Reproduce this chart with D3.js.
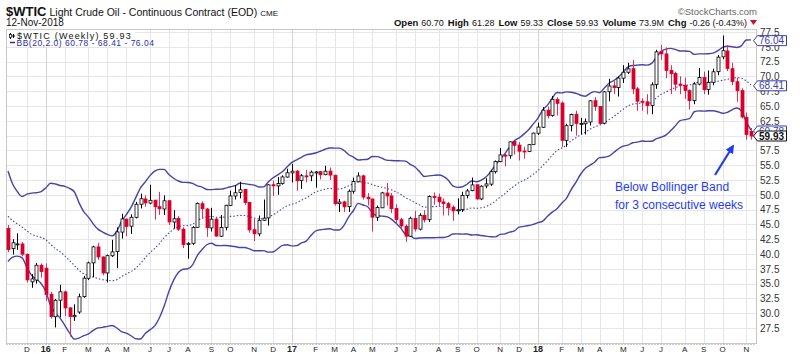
<!DOCTYPE html>
<html>
<head>
<meta charset="utf-8">
<script src="https://cdn.jsdelivr.net/npm/d3@7"></script>
<style>
    body { margin: 0; background: #fff; }
    svg { display: block; font-family: "Liberation Sans", Arial, sans-serif; }
</style>
</head>
<body>
<div id="chart"></div>
<script>
// weekly candles, $WTIC, week of 9-Nov-2015 to week of 12-Nov-2018
const opens = [
    44.3, 40.9, 41.6, 41.7, 39.9, 35.3, 35.6, 38.1, 37.6, 33.2,
    29.4, 32.2, 33.6, 30.9, 29.4, 30.2, 32.8, 35.9, 38.5, 41.2,
    39.5, 36.8, 39.7, 40.4, 43.7, 45.9, 44.7, 46.2, 48.4, 49.3,
    48.6, 49.1, 48.0, 47.6, 49.0, 45.4, 46.0, 44.2, 41.6, 41.8,
    44.5, 48.5, 47.6, 44.4, 45.9, 43.0, 44.5, 48.2, 49.8, 50.4,
    50.9, 48.7, 44.1, 43.4, 45.7, 46.1, 51.7, 51.5, 51.9, 53.0,
    53.7, 54.0, 52.4, 53.2, 53.2, 53.8, 53.9, 53.4, 54.0, 53.3,
    48.5, 48.8, 48.0, 50.6, 52.2, 53.2, 49.6, 49.3, 46.2, 47.8,
    50.3, 49.8, 47.7, 45.8, 44.7, 43.0, 46.0, 44.2, 46.5, 45.8,
    49.7, 49.6, 48.8, 48.5, 47.9, 47.3, 47.5, 49.9, 50.7, 51.7,
    49.3, 51.5, 51.8, 53.9, 55.6, 56.7, 56.6, 59.0, 58.4, 57.4,
    57.3, 58.5, 60.4, 61.4, 64.3, 63.4, 66.1, 65.5, 59.2, 61.7,
    63.6, 62.0, 62.0, 62.3, 65.9, 64.9, 62.1, 67.4, 68.4, 68.1,
    69.7, 70.7, 71.3, 67.9, 65.8, 65.7, 65.1, 68.6, 74.2, 73.8,
    71.0, 70.5, 68.7, 68.5, 67.6, 65.9, 68.7, 69.8, 67.8, 69.0,
    70.8, 73.3, 74.3, 71.3, 69.1, 67.6, 63.1, 60.7
];
const highs = [
    44.9, 42.5, 43.5, 42.0, 40.1, 36.6, 38.5, 38.4, 38.4, 33.6,
    32.4, 34.8, 33.8, 31.0, 31.5, 33.3, 36.3, 38.7, 41.4, 41.9,
    39.6, 39.9, 42.4, 44.5, 46.8, 46.0, 46.7, 48.8, 50.2, 49.9,
    51.7, 49.1, 50.5, 49.9, 49.1, 47.4, 46.4, 44.5, 42.0, 44.7,
    48.7, 48.9, 47.8, 47.8, 46.2, 46.6, 48.3, 50.7, 51.6, 52.2,
    51.0, 48.8, 45.9, 46.5, 49.2, 51.8, 52.4, 53.0, 53.3, 54.4,
    55.2, 54.2, 53.5, 54.2, 54.1, 54.0, 54.0, 54.9, 54.6, 53.4,
    49.3, 49.0, 50.9, 52.9, 53.8, 53.4, 50.3, 49.3, 48.2, 50.5,
    52.0, 50.3, 48.4, 46.1, 45.0, 46.3, 47.3, 46.9, 47.4, 49.9,
    50.4, 50.2, 49.4, 48.8, 48.2, 49.4, 50.5, 51.0, 52.9, 51.7,
    51.6, 52.8, 54.2, 55.8, 57.9, 56.9, 59.0, 59.1, 58.9, 58.1,
    58.6, 60.5, 62.2, 64.8, 64.9, 66.7, 66.5, 65.8, 62.0, 63.7,
    64.2, 63.0, 62.9, 66.0, 66.5, 65.0, 67.5, 69.6, 69.3, 70.0,
    71.9, 72.3, 72.8, 68.2, 66.3, 67.0, 69.0, 74.5, 75.3, 74.9,
    71.9, 70.8, 70.0, 69.8, 67.8, 69.0, 71.4, 70.8, 71.0, 71.3,
    73.6, 76.9, 75.3, 72.3, 69.8, 68.0, 63.9, 61.28
];
const lows = [
    40.3, 39.9, 40.7, 39.6, 35.2, 34.3, 35.0, 36.0, 32.1, 29.1,
    27.6, 29.3, 29.5, 26.05, 28.7, 29.9, 32.6, 35.6, 36.1, 39.0,
    36.4, 35.2, 39.5, 37.6, 42.6, 43.0, 43.4, 46.0, 47.7, 48.0,
    48.4, 45.8, 46.6, 46.6, 44.9, 44.3, 43.9, 41.0, 39.2, 41.5,
    44.4, 46.0, 42.9, 43.8, 42.9, 42.9, 44.0, 48.2, 49.2, 49.4,
    48.3, 43.6, 42.2, 43.0, 45.6, 44.8, 49.8, 50.0, 51.7, 52.9,
    52.1, 50.7, 51.0, 52.1, 52.3, 51.2, 52.6, 53.3, 52.5, 48.2,
    47.1, 47.1, 47.1, 50.2, 52.1, 49.2, 48.2, 43.8, 45.6, 47.8,
    48.2, 46.9, 45.2, 44.2, 42.05, 42.9, 43.8, 44.0, 45.3, 45.4,
    48.3, 48.1, 46.5, 46.5, 45.6, 46.7, 47.1, 49.4, 50.6, 49.2,
    49.1, 51.1, 51.5, 53.6, 55.5, 54.8, 56.1, 56.8, 55.8, 56.1,
    57.2, 58.5, 60.1, 61.3, 62.9, 63.2, 63.4, 58.1, 58.1, 60.7,
    60.0, 60.2, 60.2, 61.7, 64.2, 61.8, 61.9, 65.8, 67.0, 66.6,
    68.9, 70.4, 67.0, 64.2, 64.2, 63.6, 63.6, 67.9, 72.8, 69.7,
    67.0, 67.6, 67.0, 66.2, 64.4, 65.3, 68.5, 67.0, 66.9, 68.5,
    70.2, 72.9, 70.9, 68.5, 65.7, 62.9, 59.3, 59.33
];
const closes = [
    40.74, 41.90, 41.71, 39.97, 35.62, 35.80, 38.10, 37.04, 33.16, 29.42,
    32.19, 33.62, 30.89, 29.44, 29.64, 32.78, 35.92, 38.50, 41.20, 39.50,
    36.79, 39.72, 40.36, 43.73, 45.92, 44.66, 46.21, 48.41, 49.33, 48.62,
    49.07, 47.98, 47.64, 48.99, 45.41, 45.95, 44.19, 41.60, 41.80, 44.49,
    48.52, 47.64, 44.44, 45.88, 43.03, 44.48, 48.24, 49.81, 50.35, 50.85,
    48.70, 44.07, 43.41, 45.69, 46.06, 51.68, 51.50, 51.90, 53.02, 53.72,
    53.99, 52.37, 53.22, 53.17, 53.83, 53.86, 53.40, 53.99, 53.33, 48.49,
    48.78, 47.97, 50.60, 52.24, 53.18, 49.62, 49.33, 46.22, 47.84, 50.33,
    49.80, 47.66, 45.83, 44.74, 43.01, 46.04, 44.23, 46.54, 45.77, 49.71,
    49.58, 48.82, 48.51, 47.87, 47.29, 47.48, 49.89, 50.66, 51.67, 49.29,
    51.45, 51.84, 53.90, 55.64, 56.74, 56.55, 58.95, 58.36, 57.36, 57.30,
    58.47, 60.42, 61.44, 64.30, 63.37, 66.14, 65.45, 59.20, 61.68, 63.55,
    62.04, 62.04, 62.34, 65.88, 64.94, 62.06, 67.39, 68.38, 68.10, 69.72,
    70.70, 71.28, 67.88, 65.81, 65.74, 65.06, 68.58, 74.15, 73.80, 71.01,
    70.46, 68.69, 68.49, 67.63, 65.91, 68.72, 69.80, 67.75, 68.99, 70.78,
    73.25, 74.34, 71.34, 69.12, 67.59, 63.14, 60.19, 59.93
];
// 19 weekly closes before the first candle, needed for the 20-week bands
const priorCloses = [
    56.93, 52.74, 50.89, 48.14, 47.12, 43.87, 42.50, 40.45, 45.22, 46.05,
    44.63, 44.68, 45.70, 45.54, 49.63, 47.26, 44.60, 46.59, 44.29
];
const yTicks = d3.range(27.5, 77.6, 2.5);
const monthLetters = ['J', 'F', 'M', 'A', 'M', 'J', 'J', 'A', 'S', 'O', 'N', 'D'];
const headerItems = [
    ['Open', '60.70'], ['High', '61.28'], ['Low', '59.33'], ['Close', '59.93'],
    ['Volume', '73.9M'], ['Chg', '-0.26 (-0.43%)']
];
const priceTags = [
    {value: 76.04, label: '76.04', color: '#3c3ca8', bold: false},
    {value: 68.41, label: '68.41', color: '#3c3ca8', bold: false},
    {value: 60.78, label: '60.78', color: '#3c3ca8', bold: false},
    {value: 59.93, label: '59.93', color: '#111', bold: true}
];

const W = 800, H = 354;
const plot = {left: 6.5, right: 756.5, top: 29.5, bottom: 343.5};
const UP = '#000', DOWN = '#d8002e', DOWN_WICK = '#e2304f', BAND = '#4444aa';

const weeks = d3.timeMonday.range(new Date(2015, 10, 9), new Date(2018, 10, 13));
const candles = weeks.map((d, i) => ({date: d, o: opens[i], h: highs[i], l: lows[i], c: closes[i]}));

// Bollinger bands (20, 2.0)
const allCloses = priorCloses.concat(closes);
const bands = candles.map((d, i) => {
    const win = allCloses.slice(i, i + 20);
    const m = d3.mean(win);
    const sd = Math.sqrt(d3.mean(win, v => (v - m) * (v - m)));
    return {date: d.date, mid: m, up: m + 2 * sd, lo: m - 2 * sd};
});

const svg = d3.select('#chart').append('svg')
    .attr('width', W)
    .attr('height', H);

const x = d3.scaleTime()
    .domain([weeks[0], weeks[weeks.length - 1]])
    .range([8, 751]);

const y = d3.scaleLinear()
    .domain([27.5, 77.5])
    .range([328, 32]);

// month positions = first weekly bar of each month
const months = d3.timeMonth.range(new Date(2015, 11, 1), new Date(2018, 10, 2))
    .map(m => ({month: m, bar: d3.timeMonday.ceil(m)}));

// grid
const grid = svg.append('g');
grid.selectAll('line.h')
    .data(yTicks)
    .join('line')
    .attr('class', 'h')
    .attr('x1', plot.left).attr('x2', plot.right)
    .attr('y1', d => Math.round(y(d)) + 0.5)
    .attr('y2', d => Math.round(y(d)) + 0.5)
    .attr('stroke', '#e6e6e6');

grid.selectAll('line.v')
    .data(months)
    .join('line')
    .attr('class', 'v')
    .attr('x1', d => Math.round(x(d.bar)) + 0.5)
    .attr('x2', d => Math.round(x(d.bar)) + 0.5)
    .attr('y1', plot.top).attr('y2', plot.bottom)
    .attr('stroke', d => d.month.getMonth() === 0 ? '#d4d4d4' : '#e6e6e6');

// frame
svg.append('rect')
    .attr('x', plot.left).attr('y', plot.top)
    .attr('width', plot.right - plot.left)
    .attr('height', plot.bottom - plot.top)
    .attr('fill', 'none')
    .attr('stroke', '#c8c8c8');

// bottom dotted week ticks
svg.append('line')
    .attr('x1', plot.left).attr('x2', plot.right)
    .attr('y1', plot.bottom + 1).attr('y2', plot.bottom + 1)
    .attr('stroke', '#999')
    .attr('stroke-dasharray', '1,2');

// bands
const bandLine = key => d3.line().x(d => x(d.date)).y(d => y(d[key])).curve(d3.curveMonotoneX);
svg.append('path').datum(bands)
    .attr('d', bandLine('up'))
    .attr('fill', 'none').attr('stroke', BAND).attr('stroke-width', 1.4);
svg.append('path').datum(bands)
    .attr('d', bandLine('lo'))
    .attr('fill', 'none').attr('stroke', BAND).attr('stroke-width', 1.4);
svg.append('path').datum(bands)
    .attr('d', bandLine('mid'))
    .attr('fill', 'none').attr('stroke', BAND).attr('stroke-width', 1.1)
    .attr('stroke-dasharray', '1.5,2');

// candles
const cg = svg.append('g');
cg.selectAll('line')
    .data(candles)
    .join('line')
    .attr('x1', d => Math.round(x(d.date)) + 0.5)
    .attr('x2', d => Math.round(x(d.date)) + 0.5)
    .attr('y1', d => y(d.h))
    .attr('y2', d => y(d.l))
    .attr('stroke', d => d.c >= d.o ? UP : DOWN_WICK)
    .attr('stroke-width', 1);

cg.selectAll('rect')
    .data(candles)
    .join('rect')
    .attr('x', d => Math.round(x(d.date)) - 1)
    .attr('y', d => y(Math.max(d.o, d.c)))
    .attr('width', 3)
    .attr('height', d => Math.max(1, Math.abs(y(d.o) - y(d.c))))
    .attr('fill', d => d.c >= d.o ? '#fff' : DOWN)
    .attr('stroke', d => d.c >= d.o ? UP : DOWN)
    .attr('stroke-width', 0.8);

// right axis labels (60.0 sits fully under the price tags)
const yAxis = d3.axisRight(y)
    .tickValues(yTicks.filter(v => v !== 60))
    .tickSize(0)
    .tickPadding(0)
    .tickFormat(d3.format('.1f'));
svg.append('g')
    .attr('transform', 'translate(760,0)')
    .call(yAxis)
    .call(g => g.select('.domain').remove())
    .call(g => g.selectAll('text')
        .attr('fill', '#333')
        .style('font-size', '10px')
        .style('font-family', '"Liberation Sans", Arial, sans-serif'));

// price tags on the right
const tags = svg.append('g').selectAll('g')
    .data(priceTags)
    .join('g')
    .attr('transform', d => `translate(0,${y(d.value)})`);
tags.append('path')
    .attr('d', 'M753.5,0 L757.5,-5 L786.5,-5 L786.5,5 L757.5,5 Z')
    .attr('fill', '#fff')
    .attr('stroke', d => d.color)
    .attr('stroke-width', 1);
tags.append('text')
    .attr('x', 759)
    .attr('y', 3.6)
    .attr('fill', d => d.color)
    .style('font-size', '10px')
    .style('font-weight', d => d.bold ? 'bold' : 'normal')
    .text(d => d.label);

// x axis month labels
svg.append('g').selectAll('text')
    .data(months)
    .join('text')
    .attr('x', d => x(d.bar))
    .attr('y', 352)
    .attr('text-anchor', 'middle')
    .attr('fill', '#222')
    .style('font-size', d => d.month.getMonth() === 0 ? '9px' : '8px')
    .style('font-weight', d => d.month.getMonth() === 0 ? 'bold' : 'normal')
    .text(d => d.month.getMonth() === 0 ? d3.timeFormat('%y')(d.month) : monthLetters[d.month.getMonth()]);

// legend box
svg.append('rect')
    .attr('x', 7).attr('y', 30)
    .attr('width', 128).attr('height', 17)
    .attr('fill', '#fff');
svg.append('path')
    .attr('d', 'M10.5,33 V39 M13.5,34 V38')
    .attr('stroke', '#000').attr('stroke-width', 1);
svg.append('rect').attr('x', 9.5).attr('y', 34.5).attr('width', 2).attr('height', 3)
    .attr('fill', '#fff').attr('stroke', '#000').attr('stroke-width', 0.7);
svg.append('rect').attr('x', 12.5).attr('y', 35).attr('width', 2).attr('height', 2)
    .attr('fill', '#000');
svg.append('text')
    .attr('x', 17).attr('y', 38.5)
    .attr('fill', '#111')
    .style('font-size', '9px')
    .style('letter-spacing', '1.2px')
    .text('$WTIC (Weekly) 59.93');
svg.append('line')
    .attr('x1', 10).attr('x2', 15).attr('y1', 42.5).attr('y2', 42.5)
    .attr('stroke', '#2e2ea8').attr('stroke-width', 1.5);
svg.append('text')
    .attr('x', 16.5).attr('y', 45.5)
    .attr('fill', '#2e2ea8')
    .style('font-size', '8.5px')
    .style('letter-spacing', '0.5px')
    .text('BB(20,2.0) 60.78 - 68.41 - 76.04');

// title block
const title = svg.append('text').attr('x', 6).attr('y', 16).attr('fill', '#111');
title.append('tspan').style('font-size', '13px').style('font-weight', 'bold').text('$WTIC');
title.append('tspan').attr('dx', 3).style('font-size', '10.5px').text('Light Crude Oil - Continuous Contract (EOD)');
title.append('tspan').attr('dx', 3).style('font-size', '8px').text('CME');

svg.append('text')
    .attr('x', 6).attr('y', 26)
    .attr('fill', '#111')
    .style('font-size', '10px')
    .text('12-Nov-2018');

svg.append('text')
    .attr('x', 757).attr('y', 15)
    .attr('text-anchor', 'end')
    .attr('fill', '#666')
    .style('font-size', '9.5px')
    .text('\u00A9StockCharts.com');

const header = svg.append('text')
    .attr('x', 747).attr('y', 26)
    .attr('text-anchor', 'end')
    .attr('fill', '#111');
headerItems.forEach((d, i) => {
    header.append('tspan')
        .attr('dx', i === 0 ? 0 : 4)
        .style('font-size', '9.5px')
        .style('font-weight', 'bold')
        .text(d[0]);
    header.append('tspan')
        .attr('dx', 3)
        .style('font-size', '9px')
        .text(d[1]);
});
svg.append('path')
    .attr('d', 'M750,20 L757,20 L753.5,25 Z')
    .attr('fill', '#c8102e');

// annotation
const NOTE = '#1f3cf5';
svg.append('defs').append('marker')
    .attr('id', 'arrowhead')
    .attr('viewBox', '0 0 10 10')
    .attr('refX', 8).attr('refY', 5)
    .attr('markerWidth', 4).attr('markerHeight', 4)
    .attr('orient', 'auto')
    .append('path')
    .attr('d', 'M0,0 L10,5 L0,10 Z')
    .attr('fill', NOTE);
svg.append('line')
    .attr('x1', 715).attr('y1', 175)
    .attr('x2', 733).attr('y2', 146)
    .attr('stroke', NOTE)
    .attr('stroke-width', 2.2)
    .attr('marker-end', 'url(#arrowhead)');
svg.append('text')
    .attr('x', 615).attr('y', 191)
    .attr('fill', NOTE)
    .style('font-size', '12px')
    .text('Below Bollinger Band');
svg.append('text')
    .attr('x', 615).attr('y', 209)
    .attr('fill', NOTE)
    .style('font-size', '12px')
    .text('for 3 consecutive weeks');
</script>
</body>
</html>
